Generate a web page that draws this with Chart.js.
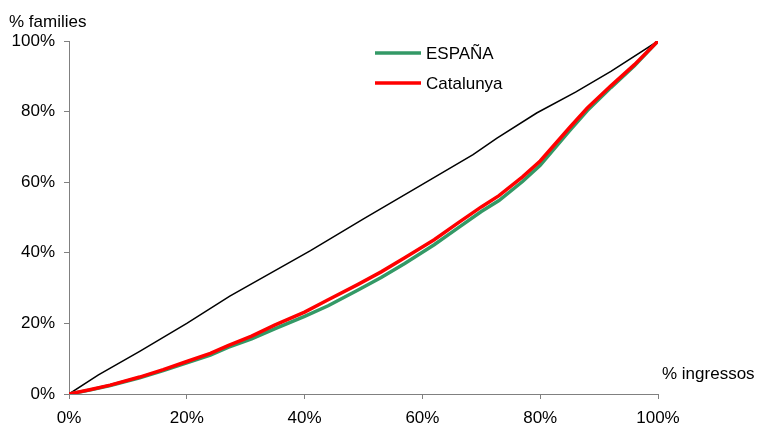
<!DOCTYPE html>
<html>
<head>
<meta charset="utf-8">
<script src="https://cdn.jsdelivr.net/npm/chart.js@4/dist/chart.umd.min.js"></script>
<style>
  html, body { margin: 0; padding: 0; background: #fff; }
  #wrap { width: 763px; height: 425px; position: relative; }
</style>
</head>
<body>
<div id="wrap"><canvas id="chart" width="763" height="425"></canvas></div>
<script>
// values (% ingressos on x, % families on y)
var catX = [0, 3.5, 7, 12, 16, 20, 24, 27, 31, 35, 40, 44, 49, 53, 57, 62, 66, 70, 73, 77, 80, 85, 88, 92, 96, 100];
var catY = [0, 1.2, 2.5, 4.8, 6.9, 9.2, 11.5, 13.7, 16.4, 19.6, 23.2, 26.7, 31, 34.6, 38.6, 43.7, 48.4, 53, 56.2, 61.5, 66, 75.5, 81, 87.3, 93.3, 100];
var espX = catX;
var espY = [0, 1.1, 2.4, 4.6, 6.6, 8.8, 11, 13.2, 15.6, 18.5, 22, 25, 29.4, 33, 37, 42.3, 47, 51.7, 54.8, 60.2, 64.8, 74.6, 80.3, 86.8, 93, 100];
var eqX = [0, 5, 12, 20, 27.3, 41, 50, 60, 68.6, 72.6, 79.4, 86, 92, 100];
var eqY = [0, 5.4, 12.1, 20, 27.7, 40.6, 49.6, 59.4, 67.8, 72.4, 79.6, 85.5, 91.4, 100];
var xTicks = [0, 20, 40, 60, 80, 100];
var yTicks = [0, 20, 40, 60, 80, 100];

var FONT = '"Liberation Sans", Arial, sans-serif';

function pts(xs, ys) {
    var out = [];
    for (var i = 0; i < xs.length; i++) {
        out.push({x: xs[i], y: ys[i]});
    }
    return out;
}

// axis titles and the legend sit at fixed spots, like the original
var extras = {
    id: 'extras',
    afterDraw: function(chart) {
        var ctx = chart.ctx;
        ctx.save();
        ctx.font = '17px ' + FONT;
        ctx.fillStyle = '#000';
        ctx.textBaseline = 'alphabetic';
        ctx.textAlign = 'left';
        ctx.fillText('% families', 9, 27);
        ctx.fillText('% ingressos', 662, 379);

        var items = [
            {label: 'ESPAÑA', color: '#339966', y: 53},
            {label: 'Catalunya', color: '#ff0000', y: 83}
        ];
        ctx.textBaseline = 'middle';
        items.forEach(function(it) {
            ctx.strokeStyle = it.color;
            ctx.lineWidth = 3.5;
            ctx.beginPath();
            ctx.moveTo(375, it.y);
            ctx.lineTo(421, it.y);
            ctx.stroke();
            ctx.fillText(it.label, 426, it.y + 1);
        });
        ctx.restore();
    }
};

new Chart(document.getElementById('chart'), {
    type: 'scatter',
    data: {
        datasets: [
            {
                label: 'Catalunya',
                data: pts(catX, catY),
                showLine: true,
                borderColor: '#ff0000',
                borderWidth: 3.5,
                pointRadius: 0,
                tension: 0
            },
            {
                label: 'ESPAÑA',
                data: pts(espX, espY),
                showLine: true,
                borderColor: '#339966',
                borderWidth: 3.5,
                pointRadius: 0,
                tension: 0
            },
            {
                label: 'igualtat',
                data: pts(eqX, eqY),
                showLine: true,
                borderColor: '#000000',
                borderWidth: 1.5,
                pointRadius: 0,
                tension: 0
            }
        ]
    },
    options: {
        responsive: false,
        animation: false,
        layout: { padding: { left: 0, top: 41, right: 105, bottom: 0 } },
        plugins: {
            legend: { display: false },
            tooltip: { enabled: false }
        },
        scales: {
            x: {
                type: 'linear',
                min: 0,
                max: 100,
                afterFit: function(s) { s.height = 31; },
                afterBuildTicks: function(s) {
                    s.ticks = xTicks.map(function(v) { return {value: v}; });
                },
                ticks: {
                    callback: function(v) { return v + '%'; },
                    font: { family: FONT, size: 17 },
                    color: '#000',
                    padding: 9,
                    maxRotation: 0
                },
                grid: {
                    drawOnChartArea: false,
                    tickLength: 5,
                    color: '#808080'
                },
                border: { color: '#808080', width: 1 }
            },
            y: {
                type: 'linear',
                min: 0,
                max: 100,
                afterFit: function(s) { s.width = 69; },
                afterBuildTicks: function(s) {
                    s.ticks = yTicks.map(function(v) { return {value: v}; });
                },
                ticks: {
                    callback: function(v) { return v + '%'; },
                    font: { family: FONT, size: 17 },
                    color: '#000',
                    padding: 9
                },
                grid: {
                    drawOnChartArea: false,
                    tickLength: 5,
                    color: '#808080'
                },
                border: { color: '#808080', width: 1 }
            }
        }
    },
    plugins: [extras]
});
</script>
</body>
</html>
